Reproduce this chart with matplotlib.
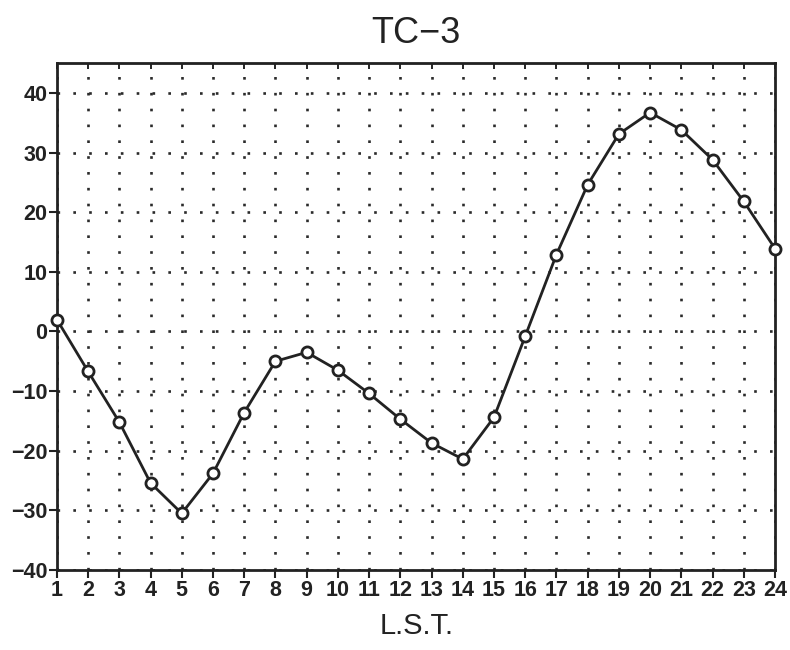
import matplotlib
matplotlib.use("Agg")
import matplotlib.pyplot as plt

# Hourly values at local standard time
hours = list(range(1, 25))
values = [2.0, -6.7, -15.2, -25.4, -30.5, -23.8, -13.6, -5.0, -3.5, -6.5,
          -10.4, -14.7, -18.7, -21.4, -14.4, -0.8, 12.9, 24.6, 33.1, 36.7,
          33.8, 28.8, 21.8, 13.9]
yticks = [-40, -30, -20, -10, 0, 10, 20, 30, 40]

plt.rcParams['font.family'] = ['Liberation Sans', 'DejaVu Sans']

fig = plt.figure(figsize=(7.9, 6.5), dpi=100)
ax = fig.add_axes([0.072, 0.123, 0.909, 0.780])

ax.plot(hours, values, color='#222222', lw=2.0, marker='o', ms=8,
        mfc='white', mec='#222222', mew=2.0, clip_on=False, zorder=3)

ax.set_xlim(1, 24)
ax.set_ylim(-40, 45)
ax.set_xticks(hours)
ax.set_yticks(yticks)
ax.tick_params(axis='both', direction='out', length=6, width=1.5,
               labelsize=15.5, colors='#222222', pad=1)
for lab in ax.get_xticklabels() + ax.get_yticklabels():
    lab.set_fontweight('bold')

ax.grid(True, color='#2a2a2a', linestyle=(0, (1, 5)), linewidth=1.9)
for sp in ax.spines.values():
    sp.set_linewidth(2.0)
    sp.set_color('#222222')

# short inward ticks along the top edge
ax2 = ax.secondary_xaxis('top')
ax2.set_xticks(hours)
ax2.tick_params(direction='in', length=4, width=1.2, labeltop=False)

fig.text(0.527, 0.948, 'TC\u22123', ha='center', va='center', fontsize=26,
         color='#222222')
fig.text(0.527, 0.037, 'L.S.T.', ha='center', va='center', fontsize=21,
         color='#222222')

fig.savefig('out.png', dpi=100)
